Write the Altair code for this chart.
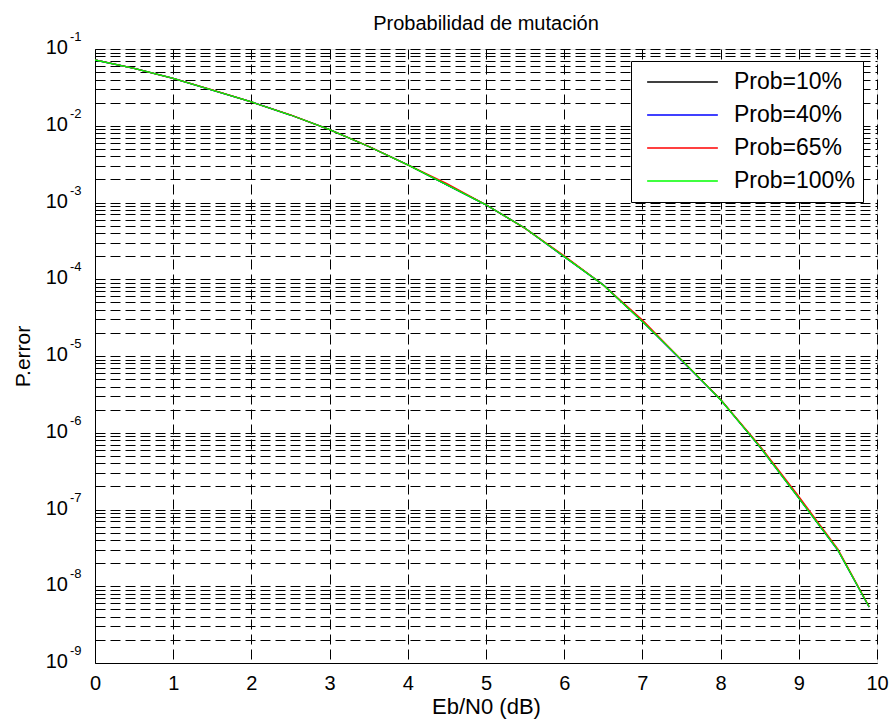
import altair as alt
import pandas as pd

# ---- data ----
ebn0 = [0.0, 0.5, 1.0, 1.5, 2.0, 2.5, 3.0, 3.5, 4.0, 4.5, 5.0,
        5.5, 6.0, 6.5, 7.0, 7.5, 8.0, 8.5, 9.0, 9.5, 9.9]
p_10 = [0.0719, 0.0560, 0.0415, 0.0292, 0.0204, 0.0138, 0.00891, 0.00537, 0.00309, 0.00170, 9.33e-4,
        4.61e-4, 1.97e-4, 8.41e-5, 2.82e-5, 8.91e-6, 2.69e-6, 6.61e-7, 1.41e-7, 2.95e-8, 5.37e-9]
p_40 = [0.0719, 0.0561, 0.0414, 0.0292, 0.0205, 0.0138, 0.00890, 0.00537, 0.00310, 0.00170, 9.30e-4,
        4.62e-4, 1.96e-4, 8.45e-5, 2.83e-5, 8.70e-6, 2.70e-6, 6.60e-7, 1.42e-7, 2.94e-8, 5.35e-9]
p_65 = [0.0720, 0.0560, 0.0415, 0.0293, 0.0204, 0.0139, 0.00892, 0.00538, 0.00309, 0.00176, 9.35e-4,
        4.60e-4, 2.02e-4, 8.40e-5, 2.95e-5, 8.90e-6, 2.72e-6, 6.80e-7, 1.48e-7, 3.05e-8, 5.40e-9]
p_100 = [0.0719, 0.0560, 0.0415, 0.0292, 0.0204, 0.0138, 0.00891, 0.00537, 0.00309, 0.00170, 9.33e-4,
         4.61e-4, 1.97e-4, 8.41e-5, 2.82e-5, 8.91e-6, 2.69e-6, 6.61e-7, 1.41e-7, 2.95e-8, 5.37e-9]

series_names = ["Prob=10%", "Prob=40%", "Prob=65%", "Prob=100%"]
series_colors = ["#000000", "#0000ff", "#ff0000", "#00ff00"]

x_ticks = [0, 1, 2, 3, 4, 5, 6, 7, 8, 9, 10]
decade_values = [1e-1, 1e-2, 1e-3, 1e-4, 1e-5, 1e-6, 1e-7, 1e-8, 1e-9]
decade_exponents = ["-1", "-2", "-3", "-4", "-5", "-6", "-7", "-8", "-9"]
grid_values = [m * 10.0 ** e for e in range(-9, -1) for m in range(1, 10)] + [0.1]

FONT = "Liberation Sans"

rows = []
for name, vals in zip(series_names, [p_10, p_40, p_65, p_100]):
    for x, p in zip(ebn0, vals):
        rows.append({"x": x, "p": p, "serie": name})
df = pd.DataFrame(rows)

labels_df = pd.DataFrame({"p": decade_values, "base": ["10"] * len(decade_values),
                          "exp": decade_exponents})

yscale = alt.Scale(type="log", domain=[1e-9, 1e-1], nice=False)
xscale = alt.Scale(domain=[0, 10], nice=False, zero=False)

lines = alt.Chart(df).mark_line(strokeWidth=1.3, clip=True).encode(
    x=alt.X("x:Q", scale=xscale,
            axis=alt.Axis(values=x_ticks, grid=True, gridColor="#000000", gridDash=[10, 5],
                          gridWidth=1, ticks=False, labelFontSize=20, labelFont=FONT,
                          labelColor="#000000", labelPadding=10, labelFlush=False,
                          domainColor="#000000",
                          title="Eb/N0 (dB)", titleFontSize=22, titleFont=FONT,
                          titleFontWeight="normal", titleColor="#000000", titlePadding=3)),
    y=alt.Y("p:Q", scale=yscale,
            axis=alt.Axis(values=grid_values, grid=True, gridColor="#000000", gridDash=[10, 5],
                          gridWidth=1, ticks=False, labels=False, domainColor="#000000",
                          title="P.error", titleFontSize=21, titleFont=FONT,
                          titleFontWeight="normal", titleColor="#000000", titlePadding=62)),
    color=alt.Color("serie:N", scale=alt.Scale(domain=series_names, range=series_colors),
                    sort=series_names,
                    legend=alt.Legend(orient="none", legendX=536, legendY=12, title=None,
                                      fillColor="#ffffff", strokeColor="#000000",
                                      padding=8, symbolType="stroke", symbolSize=5000,
                                      symbolStrokeWidth=1.3, symbolOffset=7,
                                      clipHeight=26, labelFontSize=23, labelFont=FONT,
                                      labelColor="#000000", labelOffset=15, rowPadding=7)),
    order=alt.Order("x:Q"),
)

base_labels = alt.Chart(labels_df).mark_text(align="right", baseline="middle", fontSize=20,
                                             font=FONT, color="#000000", dy=-1).encode(
    y=alt.Y("p:Q", scale=yscale),
    x=alt.value(-27),
    text="base:N",
)
exp_labels = alt.Chart(labels_df).mark_text(align="left", baseline="middle", fontSize=13,
                                            font=FONT, color="#000000", dy=-12).encode(
    y=alt.Y("p:Q", scale=yscale),
    x=alt.value(-25),
    text="exp:N",
)

chart = alt.layer(lines, base_labels, exp_labels).properties(
    width=782, height=614,
    title=alt.TitleParams("Probabilidad de mutación", fontSize=20, font=FONT,
                          fontWeight="normal", color="#000000", offset=-3),
    autosize=alt.AutoSizeParams(type="none"),
    padding={"left": 95, "top": 49, "right": 15, "bottom": 62},
).configure_view(stroke="#000000", strokeWidth=1).configure(background="#ffffff")

chart.save("out.html", embed_options={"renderer": "svg", "actions": False})
